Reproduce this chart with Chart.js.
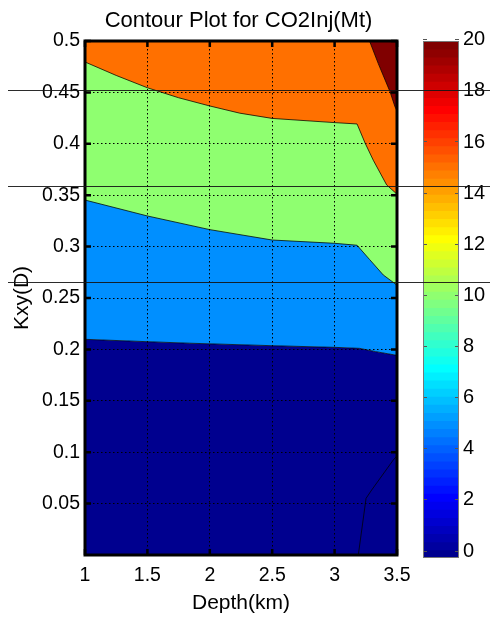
<!DOCTYPE html>
<html>
<head>
<meta charset="utf-8">
<title>Contour Plot for CO2Inj(Mt)</title>
<script src="https://cdn.jsdelivr.net/npm/chart.js@4.4.1/dist/chart.umd.min.js"></script>
<style>
  html, body { margin: 0; padding: 0; background: #fff; }
  #wrap { position: relative; width: 490px; height: 623px; }
  #wrap canvas { position: absolute; left: 0; top: 0; }
</style>
</head>
<body>
<div id="wrap">
  <canvas id="cbar" width="490" height="623"></canvas>
  <canvas id="contour" width="490" height="623"></canvas>
</div>
<script>
// axis ticks
var xTicks = [1, 1.5, 2, 2.5, 3, 3.5];
var yTicks = [0.05, 0.1, 0.15, 0.2, 0.25, 0.3, 0.35, 0.4, 0.45, 0.5];
var cbarTicks = [0, 2, 4, 6, 8, 10, 12, 14, 16, 18, 20];
var cbarRange = [-0.27, 19.95];

// contour boundaries, Depth(km) vs Kxy(D)
var edge5X = [1, 1.5, 1.84, 2.5, 3, 3.2, 3.33, 3.5];
var edge5Y = [0.2098, 0.2075, 0.206, 0.2036, 0.202, 0.201, 0.1978, 0.1942];

var edge10X = [1, 1.5, 2, 2.5, 3, 3.18, 3.28, 3.39, 3.5];
var edge10Y = [0.3453, 0.3298, 0.3165, 0.3064, 0.3032, 0.3013, 0.2875, 0.2724, 0.2625];

var edge15X = [1, 1.25, 1.5, 1.75, 2, 2.24, 2.5, 3, 3.18, 3.244, 3.31, 3.417, 3.5];
var edge15Y = [0.4796, 0.4665, 0.4545, 0.4448, 0.4368, 0.4298, 0.4247, 0.4206, 0.4193, 0.4008, 0.384, 0.36, 0.351];

var edge20X = [3.28, 3.35, 3.444, 3.484, 3.5];
var edge20Y = [0.5, 0.478, 0.4507, 0.436, 0.432];

var edge0X = [3.19, 3.252, 3.297, 3.47, 3.5];
var edge0Y = [0, 0.0551, 0.0632, 0.0924, 0.0965];

// the long horizontal rules across the figure
var ruleY = [0.4523, 0.3594, 0.2651];

var FONT = '"Liberation Sans", Arial, Helvetica, sans-serif';

// matlab jet(64)
function jetColor(k) {
	var u = [];
	for (var j = 1; j <= 16; j++) u.push(j / 16);
	for (var j = 0; j < 15; j++) u.push(1);
	for (var j = 16; j >= 1; j--) u.push(j / 16);
	function ch(off) {
		var idx = k - off - 1;
		return (idx >= 0 && idx < u.length) ? u[idx] : 0;
	}
	return 'rgb(' + Math.round(ch(24) * 255) + ',' + Math.round(ch(8) * 255) + ',' + Math.round(ch(-8) * 255) + ')';
}

function pts(xs, ys) {
	return xs.map(function (x, i) { return {x: x, y: ys[i]}; });
}

function fmt(v) {
	return String(+Number(v).toFixed(2));
}

var edgeLine = 'rgba(0,0,0,0.75)';

function region(xs, ys, fill, color, order, lw) {
	return {
		data: pts(xs, ys),
		fill: fill,
		backgroundColor: color,
		borderColor: edgeLine,
		borderWidth: lw,
		pointRadius: 0,
		tension: 0,
		order: order
	};
}

var framePlugin = {
	id: 'frame',
	afterDraw: function (chart) {
		var ctx = chart.ctx, a = chart.chartArea;
		var sx = chart.scales.x, sy = chart.scales.y;
		ctx.save();
		ctx.strokeStyle = '#000';
		ctx.lineWidth = 2.5;
		ctx.beginPath();
		xTicks.forEach(function (v) {
			var px = sx.getPixelForValue(v);
			ctx.moveTo(px, a.bottom); ctx.lineTo(px, a.bottom - 6);
			ctx.moveTo(px, a.top); ctx.lineTo(px, a.top + 6);
		});
		yTicks.forEach(function (v) {
			var py = sy.getPixelForValue(v);
			ctx.moveTo(a.left, py); ctx.lineTo(a.left + 6, py);
			ctx.moveTo(a.right, py); ctx.lineTo(a.right - 6, py);
		});
		ctx.stroke();
		ctx.lineWidth = 3;
		ctx.strokeRect(a.left, a.top, a.right - a.left, a.bottom - a.top);

		// rules over whole figure
		ctx.strokeStyle = 'rgba(20,20,20,0.9)';
		ctx.lineWidth = 1.2;
		ctx.beginPath();
		ruleY.forEach(function (v) {
			var py = Math.round(sy.getPixelForValue(v)) + 0.5;
			ctx.moveTo(8, py); ctx.lineTo(chart.width, py);
		});
		ctx.stroke();
		ctx.restore();
	}
};

var contourChart = new Chart(document.getElementById('contour').getContext('2d'), {
	type: 'line',
	data: {
		datasets: [
			region(edge5X, edge5Y, 'start', jetColor(1), 6, 0),
			region(edge5X, edge5Y, 'end', jetColor(17), 5, 1),
			region(edge10X, edge10Y, 'end', jetColor(33), 4, 1),
			region(edge15X, edge15Y, 'end', jetColor(49), 3, 1),
			region(edge20X, edge20Y, 'end', jetColor(64), 2, 1),
			region(edge0X, edge0Y, false, 'transparent', 1, 1)
		]
	},
	options: {
		responsive: false,
		animation: false,
		devicePixelRatio: 1,
		layout: {padding: {left: 0, right: 13, top: 0, bottom: 0}},
		plugins: {
			legend: {display: false},
			tooltip: {enabled: false},
			title: {
				display: true,
				text: 'Contour Plot for CO2Inj(Mt)',
				color: '#000',
				font: {family: FONT, size: 22, weight: 'normal', lineHeight: 1.2},
				padding: {top: 8, bottom: 6.6}
			}
		},
		scales: {
			x: {
				type: 'linear',
				min: 1,
				max: 3.5,
				afterBuildTicks: function (s) { s.ticks = xTicks.map(function (v) { return {value: v}; }); },
				afterFit: function (s) { s.height = 68; },
				ticks: {
					callback: fmt, color: '#000', padding: 9, maxRotation: 0, autoSkip: false,
					font: {family: FONT, size: 19.5}
				},
				grid: {color: '#000', lineWidth: 1, drawTicks: false, z: 1},
				border: {display: false, dash: [1.5, 2.5]},
				title: {
					display: true, text: 'Depth(km)', color: '#000',
					font: {family: FONT, size: 21}, padding: {top: 0, bottom: 7}
				}
			},
			y: {
				min: 0,
				max: 0.5,
				afterBuildTicks: function (s) { s.ticks = yTicks.map(function (v) { return {value: v}; }); },
				afterFit: function (s) { s.width = 85; },
				ticks: {
					callback: fmt, color: '#000', padding: 5, autoSkip: false,
					font: {family: FONT, size: 19.5}
				},
				grid: {color: '#000', lineWidth: 1, drawTicks: false, z: 1},
				border: {display: false, dash: [1.5, 2.5]},
				title: {
					display: true, text: 'Kxy(D)', color: '#000',
					font: {family: FONT, size: 21}, padding: {top: 10, bottom: 0}
				}
			},
			y2: {
				position: 'right',
				grid: {display: false},
				ticks: {display: false},
				border: {display: false},
				afterFit: function (s) { s.width = 80; }
			}
		}
	},
	plugins: [framePlugin]
});

// colorbar
var cbSets = [];
var cbStep = (cbarRange[1] - cbarRange[0]) / 64;
for (var k = 64; k >= 1; k--) {
	cbSets.push({
		data: [[cbarRange[0] + (k - 1) * cbStep, cbarRange[1]]],
		backgroundColor: jetColor(k),
		borderWidth: 0,
		barPercentage: 1,
		categoryPercentage: 1,
		grouped: false
	});
}

var cbOutline = {
	id: 'cbOutline',
	afterDraw: function (chart) {
		var ctx = chart.ctx, a = chart.chartArea;
		ctx.save();
		ctx.strokeStyle = '#777';
		ctx.lineWidth = 1;
		ctx.strokeRect(a.left + 0.5, a.top + 0.5, a.right - a.left - 1, a.bottom - a.top - 1);
		ctx.restore();
	}
};

var cbarChart = new Chart(document.getElementById('cbar').getContext('2d'), {
	type: 'bar',
	data: {labels: ['CO2Inj'], datasets: cbSets},
	options: {
		responsive: false,
		animation: false,
		devicePixelRatio: 1,
		layout: {padding: {left: 423, right: 0, top: 41, bottom: 65}},
		plugins: {legend: {display: false}, tooltip: {enabled: false}, title: {display: false}},
		scales: {
			x: {display: false},
			y: {
				position: 'right',
				min: cbarRange[0],
				max: cbarRange[1],
				afterBuildTicks: function (s) { s.ticks = cbarTicks.map(function (v) { return {value: v}; }); },
				afterFit: function (s) { s.width = 31; },
				ticks: {color: '#000', padding: 4, font: {family: FONT, size: 20}},
				grid: {color: '#555', lineWidth: 1, drawTicks: false, z: 1},
				border: {display: false, dash: [4, 28]}
			}
		}
	},
	plugins: [cbOutline]
});
</script>
</body>
</html>
